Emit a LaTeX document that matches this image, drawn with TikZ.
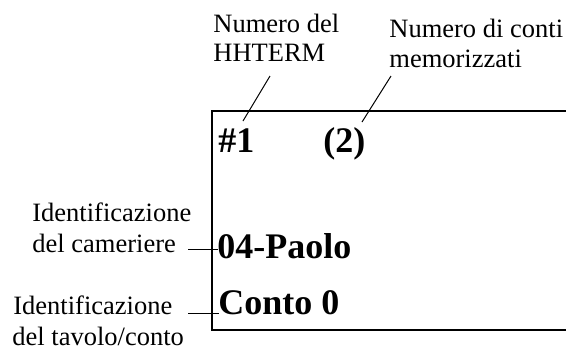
\documentclass[tikz,border=0pt]{standalone}
\usepackage{fontspec}
\setmainfont{Liberation Serif}
\begin{document}
\begin{tikzpicture}[x=0.5pt,y=-0.5pt,
  lab/.style={inner sep=0pt, anchor=base west, font=\fontsize{13.25}{15}\selectfont},
  big/.style={inner sep=0pt, anchor=base west, font=\fontsize{18}{21}\selectfont\bfseries},
  conn/.style={line width=0.5pt},
  frame/.style={line width=0.6pt}]
\useasboundingbox (0,0) rectangle (566,349);
% display frame (open on the right)
\coordinate (ftr) at (566,111);
\coordinate (ftl) at (212,111);
\coordinate (fbl) at (212,330);
\coordinate (fbr) at (566,330);
\draw[frame] (ftr) -- (ftl) -- (fbl) -- (fbr);
% display texts
\node[big] (term) at (218,152) {\#1};
\node[big] (cnt) at (323,152) {(2)};
\node[big] (paolo) at (217,258) {04-Paolo};
\node[big] (conto) at (218,314) {Conto 0};
% labels
\node[lab] (l1a) at (213,32) {Numero del};
\node[lab] (l1b) at (213,61) {HHTERM};
\node[lab] (l2a) at (389,37) {Numero di conti};
\node[lab] (l2b) at (389,67) {memorizzati};
\node[lab] (l3a) at (32,221) {Identificazione};
\node[lab] (l3b) at (32,252) {del cameriere};
\node[lab] (l4a) at (13,314) {Identificazione};
\node[lab] (l4b) at (12,345) {del tavolo/conto};
% connectors
\coordinate (a1) at (270,76);  \coordinate (b1) at (243,121);
\coordinate (a2) at (391,76);  \coordinate (b2) at (362,122);
\coordinate (a3) at (188,249); \coordinate (b3) at (218,249);
\coordinate (a4) at (188,313); \coordinate (b4) at (219,313);
\draw[conn] (a1) -- (b1);
\draw[conn] (a2) -- (b2);
\draw[conn] (a3) -- (b3);
\draw[conn] (a4) -- (b4);
\end{tikzpicture}
\end{document}
